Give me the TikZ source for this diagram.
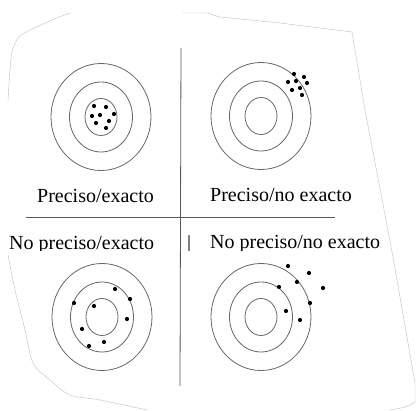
\documentclass[tikz,border=0pt]{standalone}
\usepackage{fontspec}
\setmainfont{Liberation Serif}
\begin{document}
\begin{tikzpicture}[x=1pt,y=-1pt,
  ring/.style={draw=black!60,line width=0.8pt},
  dot/.style={fill=black},
  rule/.style={draw=black!65,line width=0.8pt},
  edge/.style={draw=black!25,line width=0.4pt},
  lab/.style={font=\fontsize{20}{24}\selectfont,inner sep=0pt,anchor=base west,text=black}]
\useasboundingbox (0,0) rectangle (416,411);
% paper outline
\draw[edge] plot[smooth] coordinates {(8,100) (10,70) (12,52) (18,38) (28,31) (52,20) (70,13)};
\draw[edge] (182,13) -- (207,13) -- (220,17) -- (280,23) -- (352,32) -- (365,110) -- (393,257) -- (415,383) -- (415,402);
\draw[edge] plot[smooth] coordinates {(415,402) (405,407) (390,410)};
\draw[edge] plot[smooth] coordinates {(8,255) (15,290) (25,330) (33,363) (50,380) (70,395) (100,400) (147,410)};
% dividers
\coordinate (vt) at (181,48);
\coordinate (vb) at (180,386);
\coordinate (hl) at (26,217);
\coordinate (hr) at (335,217);
\draw[rule] (vt) -- (vb);
\draw[rule] (hl) -- (hr);
% targets
\foreach \cx/\cy in {101/117, 261/116, 102/317, 261/317}{
  \draw[ring] (\cx,\cy) ellipse [x radius=50pt, y radius=53.5pt];
  \draw[ring] (\cx,\cy) ellipse [x radius=31.5pt, y radius=35pt];
  \draw[ring] (\cx,\cy) ellipse [x radius=16pt, y radius=18.5pt];
}
% dots
\foreach \p in {(94,106),(106,107),(92,116),(100,115),(114,114),(109,121),(96,123),(106,128),
                (294,74),(304,77),(288,82),(296,81),(307,83),(292,90),(300,88),(302,95),
                (115,289),(130,299),(74,303),(94,306),(127,319),(82,329),(104,342),(89,346),
                (288,266),(309,273),(297,282),(279,287),(323,288),(310,303),(286,311),(300,320)}
  \fill[dot] \p circle (2.1pt);
% labels
\node[lab] (pe) at (37,203) {Preciso/exacto};
\node[lab] (pne) at (210,202) {Preciso/no exacto};
\begin{scope}
\clip (0,0) rectangle (416,251);
\node[lab] (npe) at (9,250) {No preciso/exacto};
\node[lab] (bar) at (187,250) {|};
\node[lab] (npne) at (210,249) {No preciso/no exacto};
\end{scope}
\end{tikzpicture}
\end{document}
